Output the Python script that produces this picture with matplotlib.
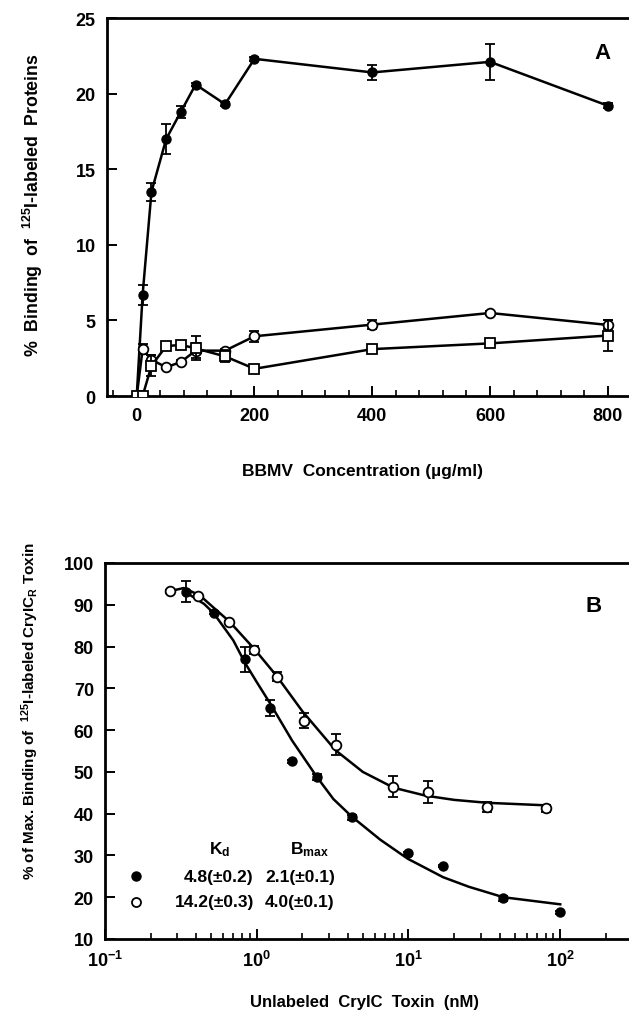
import numpy as np
import matplotlib
matplotlib.use("Agg")
import matplotlib.pyplot as plt
from matplotlib.ticker import FixedLocator, NullFormatter, LogLocator

plt.rcParams['font.family'] = ['Liberation Sans', 'DejaVu Sans']
plt.rcParams['font.weight'] = 'bold'
plt.rcParams['mathtext.fontset'] = 'custom'
plt.rcParams['mathtext.rm'] = 'Liberation Sans:bold'
plt.rcParams['mathtext.bf'] = 'Liberation Sans:bold'
plt.rcParams['mathtext.it'] = 'Liberation Sans:bold'
plt.rcParams['mathtext.default'] = 'bf'

# ---- panel A data: % binding vs BBMV concentration ----
conc = [0, 10, 25, 50, 75, 100, 150, 200, 400, 600, 800]
cryic_r = [0, 6.7, 13.5, 17.0, 18.8, 20.6, 19.3, 22.3, 21.4, 22.1, 19.2]
cryic_r_err = [0, 0.65, 0.6, 1.0, 0.4, 0.1, 0.15, 0.15, 0.5, 1.2, 0.15]
open_circ = [0, 3.1, 2.4, 1.9, 2.25, 3.0, 3.0, 3.95, 4.72, 5.49, 4.7]
open_circ_err = [0, 0.35, 0.3, 0.1, 0.1, 0.5, 0.1, 0.35, 0.3, 0.1, 0.3]
open_sq = [0, 0, 2.0, 3.3, 3.38, 3.15, 2.62, 1.8, 3.1, 3.48, 4.0]
open_sq_err = [0, 0, 0.7, 0.1, 0.1, 0.8, 0.4, 0.1, 0.1, 0.1, 1.0]

# ---- panel B data: competition binding ----
filled_x = [0.34, 0.52, 0.84, 1.22, 1.71, 2.49, 4.23, 9.9, 16.9, 42.2, 100]
filled_y = [93.1, 88.1, 77.0, 65.3, 52.5, 48.8, 39.1, 30.5, 27.5, 19.7, 16.4]
filled_err = [2.5, 0.4, 3.0, 2.0, 0.3, 0.8, 0.6, 0.3, 0.3, 0.5, 0.3]
open_x = [0.27, 0.41, 0.66, 0.96, 1.35, 2.04, 3.33, 7.87, 13.4, 33, 80]
open_y = [93.2, 92.1, 85.9, 79.2, 72.8, 62.2, 56.5, 46.5, 45.2, 41.7, 41.3]
open_err = [0.3, 0.3, 0.3, 1.0, 1.0, 1.8, 2.5, 2.5, 2.7, 1.2, 0.8]

# fitted curves
fit_filled_x = [0.34, 0.45, 0.52, 0.7, 0.84, 1.0, 1.22, 1.71, 2.49, 3.2, 4.23,
                6.5, 9.9, 16.9, 25, 42.2, 100]
fit_filled_y = [93.0, 90.2, 88.0, 81.5, 76.0, 71.5, 66.5, 57.5, 48.8, 43.5, 39.3,
                33.8, 29.2, 24.8, 22.5, 20.0, 18.3]
fit_open_x = [0.27, 0.33, 0.42, 0.52, 0.66, 0.96, 1.35, 2.0, 3.3, 5.0, 8.0,
              13, 20, 33, 80]
fit_open_y = [93.3, 94.0, 92.3, 89.3, 86.0, 79.5, 73.0, 64.5, 55.2, 50.0, 46.2,
              44.3, 43.3, 42.6, 42.0]

kd_vals = ['4.8(±0.2)', '14.2(±0.3)']
bmax_vals = ['2.1(±0.1)', '4.0(±0.1)']

W, H = 629, 1012
fig = plt.figure(figsize=(W / 100, H / 100), dpi=100)

lw = 1.8
ebkw = dict(elinewidth=1.3, capsize=3.5, capthick=1.3, ecolor='black')

# ================= panel A =================
axA = fig.add_axes([106.7 / W, 1 - 397 / H, 1 - 106.7 / W, (397 - 19) / H])
axA.errorbar(conc, cryic_r, yerr=cryic_r_err, color='black', lw=lw,
             marker='o', ms=6.5, mfc='black', mec='black', zorder=3, **ebkw)
axA.errorbar(conc, open_circ, yerr=open_circ_err, color='black', lw=lw,
             marker='o', ms=7, mfc='white', mec='black', mew=1.3, zorder=4, **ebkw)
axA.errorbar(conc, open_sq, yerr=open_sq_err, color='black', lw=lw,
             marker='s', ms=6.5, mfc='white', mec='black', mew=1.3, zorder=5, **ebkw)
axA.set_xlim(-51, 836)
axA.set_ylim(0, 25)
axA.set_xticks([0, 200, 400, 600, 800])
axA.xaxis.set_minor_locator(FixedLocator(np.arange(-40, 840, 40)))
axA.set_yticks([0, 5, 10, 15, 20, 25])
axA.text(0.95, 0.91, 'A', transform=axA.transAxes, fontsize=16,
         fontweight='bold', ha='center', va='center')

# ================= panel B =================
axB = fig.add_axes([105 / W, 1 - 940 / H, 1 - 105 / W, (940 - 564) / H])
axB.set_xscale('log')
axB.plot(fit_filled_x, fit_filled_y, color='black', lw=lw, zorder=2)
axB.plot(fit_open_x, fit_open_y, color='black', lw=lw, zorder=2)
axB.errorbar(filled_x, filled_y, yerr=filled_err, ls='none', marker='o', ms=6.5,
             mfc='black', mec='black', zorder=3, **ebkw)
axB.errorbar(open_x, open_y, yerr=open_err, ls='none', marker='o', ms=7,
             mfc='white', mec='black', mew=1.3, zorder=4, **ebkw)
axB.set_xlim(0.1, 284)
axB.set_ylim(10, 100)
axB.set_yticks(np.arange(10, 101, 10))
axB.set_xticks([0.1, 1, 10, 100])
axB.set_xticklabels([r'$10^{-1}$', r'$10^{0}$', r'$10^{1}$', r'$10^{2}$'])
axB.xaxis.set_minor_locator(LogLocator(base=10, subs=np.arange(2, 10), numticks=20))
axB.xaxis.set_minor_formatter(NullFormatter())
axB.text(0.933, 0.888, 'B', transform=axB.transAxes, fontsize=16,
         fontweight='bold', ha='center', va='center')

# legend-like annotation
axB.text(0.2195, 0.2394, r'K$_{d}$', transform=axB.transAxes, fontsize=12.5,
         ha='center', va='center')
axB.text(0.391, 0.2394, r'B$_{max}$', transform=axB.transAxes, fontsize=12.5,
         ha='center', va='center')
axB.plot([0.0586], [0.1668], 'o', ms=6.5, mfc='black', mec='black',
         transform=axB.transAxes, clip_on=False)
axB.plot([0.0586], [0.0992], 'o', ms=6.5, mfc='white', mec='black', mew=1.3,
         transform=axB.transAxes, clip_on=False)
for yy, kd, bm in zip([0.1668, 0.0992], kd_vals, bmax_vals):
    axB.text(0.284, yy, kd, transform=axB.transAxes, fontsize=12.5,
             ha='right', va='center')
    axB.text(0.3053, yy, bm, transform=axB.transAxes, fontsize=12.5,
             ha='left', va='center')

for ax in (axA, axB):
    for side in ('left', 'bottom', 'top'):
        ax.spines[side].set_linewidth(2.0)
    ax.spines['right'].set_visible(False)
    ax.tick_params(which='major', direction='in', length=7, width=1.4,
                   labelsize=13, pad=8)
    ax.tick_params(which='minor', direction='in', length=4, width=1.2)
    ax.tick_params(axis='y', which='both', right=False)
    ax.tick_params(axis='x', which='both', top=False)
    for lab in ax.get_xticklabels() + ax.get_yticklabels():
        lab.set_fontweight('bold')

fig.text(363 / W, 1 - 471.7 / H, 'BBMV  Concentration (µg/ml)', fontsize=12.5,
         ha='center', va='center')
fig.text(33 / W, 1 - 205 / H, r'%  Binding  of  $^{125}$I-labeled  Proteins',
         fontsize=12.8, rotation=90, ha='center', va='center')
fig.text(365 / W, 1 - 1002.5 / H, 'Unlabeled  CryIC  Toxin  (nM)', fontsize=12,
         ha='center', va='center')
fig.text(30 / W, 1 - 711 / H,
         r'% of Max. Binding of  $^{125}$I-labeled CryIC$_{R}$ Toxin',
         fontsize=11, rotation=90, ha='center', va='center')

fig.savefig('out.png', dpi=100)
